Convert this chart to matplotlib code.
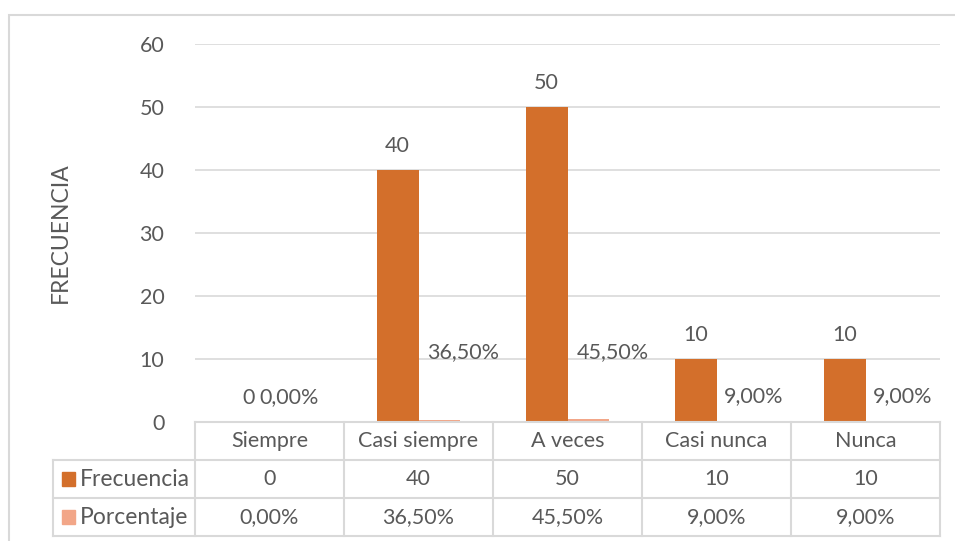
import matplotlib.pyplot as plt
from matplotlib.patches import Rectangle

# datos
CATEGORIAS = ['Siempre', 'Casi siempre', 'A veces', 'Casi nunca', 'Nunca']
FRECUENCIA = [0, 40, 50, 10, 10]
PORCENTAJE = [0.0, 0.365, 0.455, 0.09, 0.09]
ETIQ_FREC = ['0', '40', '50', '10', '10']
ETIQ_PORC = ['0,00%', '36,50%', '45,50%', '9,00%', '9,00%']
SERIES = ['Frecuencia', 'Porcentaje']
Y_TICKS = [0, 10, 20, 30, 40, 50, 60]

# donde Excel dejo las etiquetas de porcentaje (movidas a mano)
PORC_LABEL_Y = [4.0, 11.1, 11.1, 4.1, 4.1]
PORC_LABEL_DX = [-0.065, 0.06, 0.06, 0.05, 0.05]

COLOR_FREC = '#D36F2B'
COLOR_PORC = '#F2A688'
TXT = '#595959'
GRID = '#D9D9D9'
FONT = 'Lato'
FS = 15.5

plt.rcParams['font.family'] = [FONT, 'DejaVu Sans']

W, H = 955, 541
fig = plt.figure(figsize=(W / 100, H / 100), dpi=100)

# borde del area del grafico
fig.patches.append(Rectangle((9 / W, -0.05), 1.1, 1 - 15 / H + 0.05, transform=fig.transFigure,
                             fill=False, edgecolor=GRID, linewidth=1.5))

x0, x1 = 195, 940
y_top, y_bot = 44, 422
tbl_bot = 536
ax = fig.add_axes([x0 / W, 1 - y_bot / H, (x1 - x0) / W, (y_bot - y_top) / H])

n = len(CATEGORIAS)
xs = list(range(n))
bw = 0.28
ax.bar([x - bw / 2 for x in xs], FRECUENCIA, width=bw, color=COLOR_FREC, zorder=3)
ax.bar([x + bw / 2 for x in xs], PORCENTAJE, width=bw, color=COLOR_PORC, zorder=3)

ax.set_xlim(-0.5, n - 0.5)
ax.set_ylim(0, 60)
ax.set_yticks(Y_TICKS)
ax.set_xticks([])
ax.tick_params(axis='y', length=0, pad=22, labelsize=FS, labelcolor=TXT)
ax.grid(axis='y', color=GRID, linewidth=1.2, zorder=0)
for s in ax.spines.values():
    s.set_visible(False)

for i in xs:
    ax.annotate(ETIQ_FREC[i], (i - bw / 2, FRECUENCIA[i]), xytext=(0, 10), textcoords='offset points',
                ha='center', va='bottom', fontsize=FS, color=TXT)
    ax.text(i + PORC_LABEL_DX[i], PORC_LABEL_Y[i], ETIQ_PORC[i], ha='left', va='center',
            fontsize=FS, color=TXT)

fig.text(60 / W, 1 - 233 / H, 'FRECUENCIA', rotation=90, ha='center', va='center',
         fontsize=16.5, color=TXT)

# tabla de datos
cw = (x1 - x0) / n
left_col = (x0 - 53) / cw
tx = fig.add_axes([53 / W, 1 - tbl_bot / H, (x1 - 53) / W, (tbl_bot - y_bot) / H])
tx.set_xlim(-0.5 - left_col, n - 0.5)
tx.set_ylim(3, 0)
tx.axis('off')

lw = 1.5
# lineas horizontales
tx.plot([-0.5, n - 0.5], [0, 0], color=GRID, lw=lw, clip_on=False)
for r in [1, 2, 3]:
    tx.plot([-0.5 - left_col, n - 0.5], [r, r], color=GRID, lw=lw, clip_on=False)
# lineas verticales
tx.plot([-0.5 - left_col] * 2, [1, 3], color=GRID, lw=lw, clip_on=False)
for c in range(n + 1):
    tx.plot([c - 0.5] * 2, [0, 3], color=GRID, lw=lw, clip_on=False)

for i in xs:
    tx.text(i, 0.5, CATEGORIAS[i], ha='center', va='center', fontsize=FS, color=TXT)
    tx.text(i, 1.5, ETIQ_FREC[i], ha='center', va='center', fontsize=FS, color=TXT)
    tx.text(i, 2.5, ETIQ_PORC[i], ha='center', va='center', fontsize=FS, color=TXT)

for r, (name, col) in enumerate(zip(SERIES, [COLOR_FREC, COLOR_PORC])):
    sx = -0.5 - left_col + 0.06
    tx.add_patch(Rectangle((sx, r + 1.5 - 0.18), 0.09, 0.36, color=col, clip_on=False))
    tx.text(sx + 0.12, r + 1.5, name, ha='left', va='center', fontsize=16.5, color=TXT)

fig.savefig('out.png', dpi=100)
